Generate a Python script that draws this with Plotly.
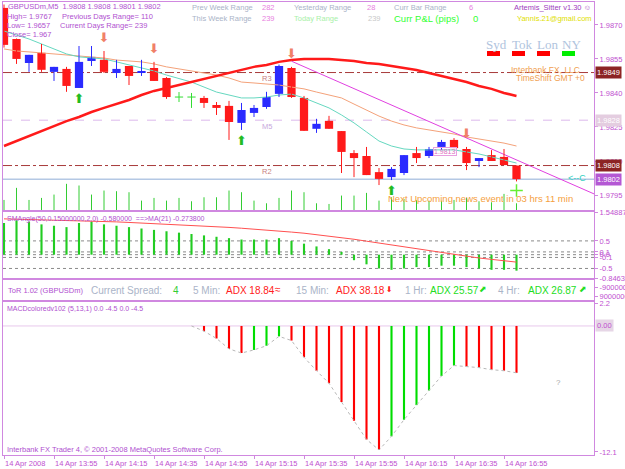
import plotly.graph_objects as go

# ---------------- data ----------------
bar_index = list(range(42))
time_tick_bars = [0, 4, 8, 12, 16, 20, 24, 28, 32, 36, 40]
time_tick_labels = ["14 Apr 2008", "14 Apr 13:55", "14 Apr 14:15", "14 Apr 14:35", "14 Apr 14:55",
                    "14 Apr 15:15", "14 Apr 15:35", "14 Apr 15:55", "14 Apr 16:15", "14 Apr 16:35",
                    "14 Apr 16:55"]

opens = [1.98775, 1.98638, 1.98532, 1.98577, 1.98493, 1.98506, 1.98422, 1.98541, 1.98546, 1.98488,
         1.98519, 1.98488, 1.98510, 1.98466, 1.98382, 1.98382, 1.98378, 1.98347, 1.98343, 1.98268,
         1.98312, 1.98338, 1.98396, 1.98510, 1.98378, 1.98242, 1.98277, 1.98232, 1.98135, 1.98122,
         1.98051, 1.98029, 1.98047, 1.98135, 1.98122, 1.98162, 1.98193, 1.98153, 1.98100, 1.98126,
         1.98118, 1.98080]
highs = [1.98790, 1.98640, 1.98568, 1.98616, 1.98515, 1.98515, 1.98607, 1.98607, 1.98585, 1.98546,
         1.98519, 1.98546, 1.98537, 1.98470, 1.98404, 1.98400, 1.98387, 1.98360, 1.98365, 1.98356,
         1.98347, 1.98405, 1.98525, 1.98515, 1.98387, 1.98286, 1.98299, 1.98232, 1.98148, 1.98162,
         1.98069, 1.98073, 1.98126, 1.98162, 1.98162, 1.98193, 1.98201, 1.98162, 1.98113, 1.98148,
         1.98153, 1.98080]
lows = [1.98600, 1.98528, 1.98493, 1.98493, 1.98453, 1.98405, 1.98422, 1.98519, 1.98488, 1.98466,
        1.98435, 1.98475, 1.98453, 1.98374, 1.98360, 1.98334, 1.98334, 1.98303, 1.98193, 1.98237,
        1.98294, 1.98330, 1.98382, 1.98378, 1.98233, 1.98224, 1.98242, 1.98047, 1.98029, 1.98038,
        1.97994, 1.98016, 1.98038, 1.98091, 1.98113, 1.98148, 1.98157, 1.98060, 1.98073, 1.98100,
        1.98082, 1.98010]
closes = [1.98612, 1.98550, 1.98568, 1.98502, 1.98515, 1.98431, 1.98537, 1.98559, 1.98493, 1.98506,
          1.98475, 1.98497, 1.98453, 1.98382, 1.98382, 1.98382, 1.98356, 1.98334, 1.98272, 1.98325,
          1.98334, 1.98382, 1.98519, 1.98382, 1.98233, 1.98264, 1.98242, 1.98140, 1.98113, 1.98038,
          1.98021, 1.98065, 1.98126, 1.98113, 1.98153, 1.98184, 1.98157, 1.98091, 1.98113, 1.98100,
          1.98082, 1.98020]

ma_slow = [1.98166, 1.98188, 1.98210, 1.98232, 1.98254, 1.98276, 1.98294, 1.98316, 1.98334, 1.98351,
           1.98369, 1.98391, 1.98409, 1.98422, 1.98435, 1.98448, 1.98462, 1.98475, 1.98488, 1.98501,
           1.98515, 1.98523, 1.98537, 1.98545, 1.98550, 1.98550, 1.98550, 1.98545, 1.98541, 1.98532,
           1.98528, 1.98519, 1.98510, 1.98501, 1.98488, 1.98475, 1.98462, 1.98448, 1.98431, 1.98418,
           1.98400, 1.98387]
ma_mid = [1.98594, 1.98585, 1.98581, 1.98576, 1.98572, 1.98567, 1.98563, 1.98559, 1.98554, 1.98545,
          1.98541, 1.98537, 1.98528, 1.98515, 1.98506, 1.98497, 1.98488, 1.98479, 1.98466, 1.98448,
          1.98444, 1.98440, 1.98435, 1.98426, 1.98418, 1.98404, 1.98391, 1.98378, 1.98351, 1.98325,
          1.98298, 1.98276, 1.98259, 1.98246, 1.98237, 1.98228, 1.98219, 1.98206, 1.98197, 1.98188,
          1.98179, 1.98166]
ma_fast = [1.98673, 1.98656, 1.98638, 1.98616, 1.98594, 1.98572, 1.98559, 1.98554, 1.98550, 1.98537,
           1.98523, 1.98510, 1.98497, 1.98479, 1.98462, 1.98448, 1.98426, 1.98404, 1.98391, 1.98378,
           1.98378, 1.98382, 1.98391, 1.98395, 1.98378, 1.98356, 1.98334, 1.98303, 1.98268, 1.98228,
           1.98188, 1.98166, 1.98153, 1.98149, 1.98149, 1.98149, 1.98149, 1.98140, 1.98131, 1.98118,
           1.98104, 1.98091]

volumes = [30, 66, 30, 36, 46, 78, 73, 46, 58, 56, 53, 28, 36, 28, 36, 26, 38, 38, 58, 53,
           28, 20, 36, 58, 53, 20, 18, 43, 43, 51, 28, 38, 33, 30, 28, 28, 30, 36, 26, 23, 48, 20]

price_ticks = [1.9870, 1.9855, 1.9840, 1.9825, 1.9810, 1.9795]
level_values = [1.9849, 1.9828, 1.9808]
level_names = ["R3", "M5", "R2"]
bid_price = 1.9802
trend_bars = [23, 47.2]
trend_prices = [1.98540, 1.97955]
sell_arrow_bars = [8, 12, 23, 37]
buy_arrow_bars = [6, 19, 31]
cross_mark_bars = [41]

sm_angle = [1.15, 1.25, 1.2, 1.1, 1.05, 1.0, 1.15, 1.2, 1.1, 1.05,
            1.0, 0.95, 0.9, 0.85, 0.8, 0.75, 0.7, 0.65, 0.6, 0.55,
            0.55, 0.55, 0.6, 0.5, 0.4, 0.3, 0.2, 0.1, -0.2, -0.35,
            -0.5, -0.55, -0.5, -0.45, -0.45, -0.4, -0.4, -0.45, -0.5, -0.55,
            -0.55, -0.58]
sm_angle_ma = [1.30, 1.29, 1.28, 1.27, 1.26, 1.25, 1.24, 1.23, 1.21, 1.19,
               1.17, 1.15, 1.13, 1.11, 1.09, 1.07, 1.05, 1.02, 0.99, 0.96,
               0.93, 0.90, 0.86, 0.82, 0.78, 0.73, 0.68, 0.62, 0.56, 0.49,
               0.42, 0.35, 0.28, 0.21, 0.14, 0.07, 0.00, -0.06, -0.12, -0.17,
               -0.22, -0.27]
sm_levels = [0.5, 0.1, 0.0, -0.1, -0.5]
sm_ticks = [1.548879, 0.5, 0.1, 0.0, -0.1, -0.5, -0.84637]
sm_tick_text = ["1.548879", "0.5", "0.1", "0.0", "-0.1", "-0.5", "-0.84637"]

macd = [None] * 16 + [-0.5, -1.2, -2.2, -2.6, -2.3, -1.9, -1.0, -1.4, -3.0, -4.3,
                      -5.5, -7.3, -9.1, -10.9, -11.9, -10.6, -9.0, -7.6, -6.2, -4.8,
                      -3.8, -3.9, -4.0, -4.2, -4.3, -4.5]
macd_ticks = [2.2, -12.1]
macd_tick_text = ["2.2", "-12.1"]
macd_zero_label = "0.00"
tor_ticks = [-9000000, 9000000]
tor_tick_text = ["-9000000", "9000000"]

# ---------------- helpers ----------------
BORDER = "#d088e0"
AXTXT = "#c050d0"
FONT = "Liberation Sans"
PLOT_R = 594


def X(px):
    return (px - 3) / (PLOT_R - 3.0)


def Y(py):
    return (455 - py) / 453.0


fig = go.Figure()

# volumes (overlay axis in main panel)
vx, vy = [], []
for i, v in zip(bar_index, volumes):
    vx += [i, i, None]
    vy += [0, v, None]
fig.add_trace(go.Scatter(x=vx, y=vy, mode="lines", line=dict(color="#33cc33", width=1),
                         xaxis="x", yaxis="y5", hoverinfo="skip"))

# moving averages
fig.add_trace(go.Scatter(x=bar_index, y=ma_mid, mode="lines", line=dict(color="#f4a27a", width=1)))
fig.add_trace(go.Scatter(x=bar_index, y=ma_fast, mode="lines", line=dict(color="#66d8c0", width=1)))
fig.add_trace(go.Scatter(x=bar_index, y=ma_slow, mode="lines", line=dict(color="#ff1a1a", width=2.5)))
fig.add_trace(go.Scatter(x=trend_bars, y=trend_prices, mode="lines", line=dict(color="#e040e0", width=1)))

# candles
groups = {"bull": ([], [], [], [], "#2a2aff"), "bear": ([], [], [], [], "#ff1a1a")}
doji_x, doji_y = [], []
for i, o, h, l, c in zip(bar_index, opens, highs, lows, closes):
    if abs(c - o) < 1e-5:
        doji_x += [i, i, None, i - 0.33, i + 0.33, None]
        doji_y += [l, h, None, o, o, None]
        continue
    key = "bull" if c > o else "bear"
    wx, wy, bx, bb, _ = groups[key]
    wx += [i, i, None]
    wy += [l, h, None]
    bx.append(i)
    bb.append((min(o, c), abs(c - o)))
for key, (wx, wy, bx, bb, col) in groups.items():
    fig.add_trace(go.Scatter(x=wx, y=wy, mode="lines", line=dict(color=col, width=1)))
    fig.add_trace(go.Bar(x=bx, y=[b[1] for b in bb], base=[b[0] for b in bb], width=0.66,
                         marker=dict(color=col, line=dict(width=0))))
fig.add_trace(go.Scatter(x=doji_x, y=doji_y, mode="lines", line=dict(color="#33dd33", width=1)))

# signal arrows
fig.add_trace(go.Scatter(x=sell_arrow_bars, y=[highs[i] + 0.00053 for i in sell_arrow_bars],
                         mode="text", text=["⬇"] * len(sell_arrow_bars),
                         textfont=dict(color="#f08068", size=13, family="DejaVu Sans")))
fig.add_trace(go.Scatter(x=buy_arrow_bars, y=[lows[i] - 0.00050 for i in buy_arrow_bars],
                         mode="text", text=["⬆"] * len(buy_arrow_bars),
                         textfont=dict(color="#22bb22", size=13, family="DejaVu Sans")))
fig.add_trace(go.Scatter(x=cross_mark_bars, y=[lows[i] - 0.00040 for i in cross_mark_bars],
                         mode="markers", marker=dict(symbol="cross-thin", size=9,
                                                     line=dict(color="#66ee33", width=1.5))))

# SMAngle panel
fig.add_trace(go.Bar(x=bar_index, y=sm_angle, width=0.17, marker=dict(color="#22cc22", line=dict(width=0)),
                     xaxis="x2", yaxis="y2"))
fig.add_trace(go.Scatter(x=bar_index, y=sm_angle_ma, mode="lines", line=dict(color="#ff5050", width=1),
                         xaxis="x2", yaxis="y2"))

# MACD panel
macd_cols = []
prev = None
for v in macd:
    if v is None:
        macd_cols.append("#00dd00")
    else:
        macd_cols.append("#00dd00" if (prev is not None and v > prev) else "#ff0000")
    prev = v
fig.add_trace(go.Bar(x=bar_index, y=macd, width=0.17, marker=dict(color=macd_cols, line=dict(width=0)),
                     xaxis="x4", yaxis="y4"))
sig_x = [i for i, v in zip(bar_index, macd) if v is not None]
sig_y = [v for v in macd if v is not None]
fig.add_trace(go.Scatter(x=[sig_x[0] - 1] + sig_x, y=[0] + sig_y, mode="lines",
                         line=dict(color="#b8b8b8", width=1, dash="dot"), xaxis="x4", yaxis="y4"))

# ---------------- shapes ----------------
shapes = []
level_styles = [("#a83a3a", "dashdot"), ("#dcb8ec", "dash"), ("#a83a3a", "dashdot")]
for val, (col, dash) in zip(level_values, level_styles):
    shapes.append(dict(type="line", xref="paper", x0=0, x1=1, yref="y", y0=val, y1=val,
                       line=dict(color=col, width=1, dash=dash), layer="below"))
shapes.append(dict(type="line", xref="paper", x0=0, x1=1, yref="y", y0=bid_price, y1=bid_price,
                   line=dict(color="#b4c8e4", width=1.5), layer="below"))
for lv in sm_levels:
    shapes.append(dict(type="line", xref="paper", x0=0, x1=1, yref="y2", y0=lv, y1=lv,
                       line=dict(color="#8a8a8a", width=1, dash="dot"), layer="below"))
shapes.append(dict(type="line", xref="paper", x0=0, x1=1, yref="y4", y0=0, y1=0,
                   line=dict(color="#e8c8ec", width=1), layer="below"))
# session boxes
for x0, col in zip([487, 512, 537, 562], ["#ff0000", "#ff0000", "#ff0000", "#00ee00"]):
    shapes.append(dict(type="rect", xref="paper", yref="paper", x0=X(x0), x1=X(x0 + 13),
                       y0=Y(56), y1=Y(51), fillcolor=col, line=dict(width=0)))

# ---------------- annotations ----------------
ann = []


def txt(text, px, py, color, size=7.5, family=FONT, **kw):
    ann.append(dict(text=text, x=X(px), y=Y(py), xref="paper", yref="paper", xanchor="left",
                    yanchor="middle", showarrow=False, font=dict(color=color, size=size, family=family), **kw))


PURP = "#b050d0"
GRAY = "#aab4c8"
PINK = "#e880e0"
txt("GBPUSDm,M5  1.9808 1.9808 1.9801 1.9802", 6, 7, PURP)
txt("High= 1.9767", 5, 16, PURP)
txt("Previous Days Range= 110", 60, 16, PURP)
txt("Low= 1.9657", 5, 25, PURP)
txt("Current Days Range= 239", 58, 25, PURP)
txt("Close= 1.967", 5, 34, PURP)
txt("Prev Week Range", 190, 8, GRAY)
txt("282", 260, 8, PINK)
txt("This Week Range", 190, 19, GRAY)
txt("239", 260, 19, PINK)
txt("Yesterday Range", 292, 8, GRAY)
txt("28", 365, 8, PINK)
txt("Today Range", 292, 19, "#a8f0a8")
txt("239", 366, 19, "#c8c8c8")
txt("Curr Bar Range", 392, 8, GRAY)
txt("6", 467, 8, PINK)
txt("Curr P&L (pips)", 392, 19, "#33ff33", 9.5)
txt("0", 471, 19, "#33ff33", 9.5)
txt("Artemis_Sitter v1.30 ☺", 512, 8, "#a040c0")
txt("Yannis.21@gmail.com", 515, 19, "#dede00")
for s, px in zip(["Syd", "Tok", "Lon", "NY"], [484, 510, 535, 560]):
    txt(s, px, 44, "#b0c4de", 13, "Liberation Serif")
txt("Interbank FX, LLC", 509, 70, "#f0a050", 8.5)
txt("TimeShift GMT +0", 514, 78, "#f0a050", 8.5)
txt("Next Upcoming news event in 03 hrs 11 min", 386, 198, "#f5a040", 9.5)
txt("<--C", 566, 178, "#30d0c0", 9)
txt("1.9813", 433, 151, "#e070c0", 7, bordercolor="#e8a0e0", borderwidth=1, borderpad=0)
txt("SMAngle(50,0.15000000,2,0) -0.580000  ==>MA(21) -0.273800", 5, 219, PURP, 7)
txt("ToR 1.02 (GBPUSDm)", 6, 290, PURP, 7.5)
txt("Current Spread:", 89, 290, GRAY, 10)
txt("4", 171, 290, "#33cc33", 10)
txt("5 Min:", 191, 290, GRAY, 10)
txt("ADX 18.84", 224, 290, "#ff2020", 10)
txt("≈", 273, 289, "#ff2020", 10)
txt("15 Min:", 294, 290, GRAY, 10)
txt("ADX 38.18", 334, 290, "#ff2020", 10)
txt("⬇", 384, 289, "#ff2020", 8, "DejaVu Sans")
txt("1 Hr:", 403, 290, GRAY, 10)
txt("ADX 25.57", 428, 290, "#22dd22", 10)
txt("⬈", 477, 289, "#22dd22", 9, "DejaVu Sans")
txt("4 Hr:", 496, 290, GRAY, 10)
txt("ADX 26.87", 526, 290, "#22dd22", 10)
txt("⬈", 577, 289, "#22dd22", 9, "DejaVu Sans")
txt("MACDcoloredv102 (5,13,1) 0.0 -4.5 0.0 -4.5", 5, 309, PURP, 7)
txt("?", 554, 382, "#a8a8a8", 8)
txt("Interbank FX Trader 4, © 2001-2008 MetaQuotes Software Corp.", 5, 449, PURP, 7.5)

# level names on chart
for val, name, col in zip(level_values, level_names, ["#c88080", "#c8a8dc", "#c88080"]):
    ann.append(dict(text=name, x=21, y=val, xref="x", yref="y", yshift=-6, showarrow=False,
                    font=dict(color=col, size=7.5, family=FONT)))

# price boxes on the right axis
for val, bg in zip(level_values + [bid_price], ["#8c2424", "#e4cde0", "#8c2424", "#b458d4"]):
    ann.append(dict(text=f"{val:.4f}", x=1.0, xshift=1, y=val, xref="paper", yref="y", xanchor="left",
                    yanchor="middle", showarrow=False, bgcolor=bg, borderpad=1,
                    font=dict(color="white", size=7.5, family=FONT)))
ann.append(dict(text=macd_zero_label, x=1.0, xshift=1, y=0, xref="paper", yref="y4", xanchor="left",
                yanchor="middle", showarrow=False, bgcolor="#e6d6e6", borderpad=1,
                font=dict(color=AXTXT, size=7.5, family=FONT)))

# time labels
for b, lab in zip(time_tick_bars, time_tick_labels):
    ann.append(dict(text=lab, x=b, y=Y(463), xref="x4", yref="paper", xanchor="left", yanchor="middle",
                    showarrow=False, xshift=-1, font=dict(color=AXTXT, size=7.5, family=FONT)))

# ---------------- layout ----------------
xr = [-0.08, (PLOT_R - 4) / 12.5]
common_x = dict(range=xr, showgrid=False, zeroline=False, showline=True, mirror=True, linecolor=BORDER,
                linewidth=1, showticklabels=False, ticks="", automargin=False)
common_y = dict(showgrid=False, zeroline=False, showline=True, mirror=True, linecolor=BORDER, linewidth=1,
                side="right", ticks="outside", ticklen=3, tickcolor=BORDER, automargin=False,
                tickfont=dict(color=AXTXT, size=7.5, family=FONT))

fig.update_layout(
    width=625, height=469, margin=dict(l=3, r=625 - PLOT_R, t=2, b=14, pad=0, autoexpand=False),
    paper_bgcolor="white", plot_bgcolor="white", showlegend=False, barmode="overlay",
    xaxis=dict(common_x, anchor="y"),
    xaxis2=dict(common_x, anchor="y2", matches="x"),
    xaxis3=dict(common_x, anchor="y3", matches="x"),
    xaxis4=dict(common_x, anchor="y4", matches="x", ticks="outside", ticklen=3, tickcolor=BORDER,
                tickvals=time_tick_bars),
    yaxis=dict(common_y, domain=[Y(210), 1], range=[1.97884, 1.98801], tickvals=price_ticks,
               tickformat=".4f"),
    yaxis5=dict(overlaying="y", range=[0, 620], visible=False, showgrid=False, zeroline=False),
    yaxis2=dict(common_y, domain=[Y(278), Y(212)], range=[-0.84637, 1.548879], tickvals=sm_ticks,
                ticktext=sm_tick_text),
    yaxis3=dict(common_y, domain=[Y(300), Y(280)], range=[17000000, -23000000], tickvals=tor_ticks,
                ticktext=tor_tick_text),
    yaxis4=dict(common_y, domain=[0, Y(302)], range=[-12.39, 2.3], tickvals=macd_ticks,
                ticktext=macd_tick_text),
    shapes=shapes, annotations=ann,
)
# dummy trace to show the ToR panel axes
fig.add_trace(go.Scatter(x=[None], y=[None], xaxis="x3", yaxis="y3"))

fig.write_html("out.html")
